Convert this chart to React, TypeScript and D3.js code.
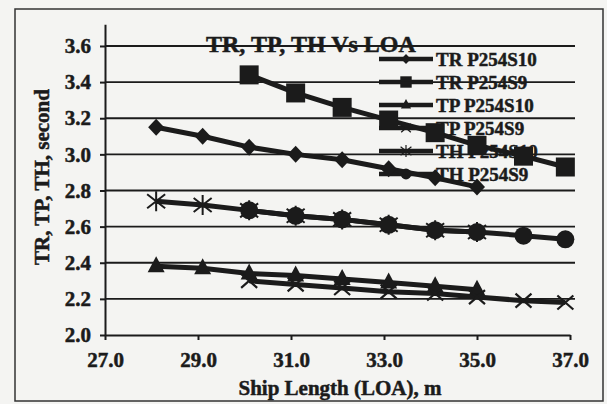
import React, { useEffect, useRef } from 'react';
import * as d3 from 'd3';

// values
const xS10 = [28.1, 29.1, 30.1, 31.1, 32.1, 33.1, 34.1, 35.0];
const xS9 = [30.1, 31.1, 32.1, 33.1, 34.1, 35.0, 36.0, 36.9];

const trS10 = [3.15, 3.10, 3.04, 3.00, 2.97, 2.92, 2.87, 2.82];
const trS9 = [3.44, 3.34, 3.26, 3.19, 3.12, 3.05, 2.99, 2.93];
const tpS10 = [2.38, 2.37, 2.34, 2.33, 2.31, 2.29, 2.27, 2.25];
const tpS9 = [2.30, 2.28, 2.26, 2.24, 2.23, 2.21, 2.19, 2.18];
const thS10 = [2.74, 2.72, 2.69, 2.66, 2.64, 2.61, 2.58, 2.57];
const thS9 = [2.69, 2.66, 2.64, 2.61, 2.58, 2.57, 2.55, 2.53];

const seriesNames = ['TR P254S10', 'TR P254S9', 'TP P254S10', 'TP P254S9', 'TH P254S10', 'TH P254S9'];
const markerTypes = ['diamond', 'square', 'triangle', 'x', 'asterisk', 'circle'];

const xTicks = [27, 29, 31, 33, 35, 37];
const yTicks = [2.0, 2.2, 2.4, 2.6, 2.8, 3.0, 3.2, 3.4, 3.6];
const xMin = 27, xMax = 37;
const yMin = 2.0, yAxisTop = 3.72;

const chartTitle = 'TR, TP, TH Vs LOA';
const xLabel = 'Ship Length (LOA), m';
const yLabel = 'TR, TP, TH, second';

const INK = '#1b1b1b';
const FONT = '"Liberation Serif", "Times New Roman", serif';

function drawMarker(g, type, cx, cy, k) {
  const m = g.append('g').attr('transform', `translate(${cx},${cy}) scale(${k})`);
  if (type === 'diamond') {
    m.append('path').attr('d', 'M0,-8.5L8,0L0,8.5L-8,0Z').attr('fill', INK);
  } else if (type === 'square') {
    m.append('rect').attr('x', -9.5).attr('y', -9.5).attr('width', 19).attr('height', 19).attr('fill', INK);
  } else if (type === 'triangle') {
    m.append('path').attr('d', 'M0,-10L8.5,6L-8.5,6Z').attr('fill', INK);
  } else if (type === 'x') {
    m.append('path').attr('d', 'M-8,-7L8,7M-8,7L8,-7')
      .attr('stroke', INK).attr('stroke-width', 2.2).attr('fill', 'none');
  } else if (type === 'asterisk') {
    m.append('path').attr('d', 'M-9,-7L9,7M-9,7L9,-7M0,-10L0,10')
      .attr('stroke', INK).attr('stroke-width', 2).attr('fill', 'none');
  } else {
    m.append('circle').attr('r', 9).attr('fill', INK);
  }
}

// scanned text looks heavier than plain bold, so give it a thin outline
function inkText(sel, size) {
  return sel.attr('font-family', FONT).attr('font-weight', 'bold').attr('font-size', size)
    .attr('fill', INK).attr('stroke', INK).attr('stroke-width', 0.5);
}

export default function App() {
  const ref = useRef(null);

  useEffect(() => {
    const svg = d3.select(ref.current);
    svg.selectAll('*').remove();

    const x = d3.scaleLinear().domain([xMin, xMax]).range([105, 570]);
    const y = d3.scaleLinear().domain([yMin, yAxisTop]).range([335, 24.3]);

    const series = [
      { xs: xS10, ys: trS10 },
      { xs: xS9, ys: trS9 },
      { xs: xS10, ys: tpS10 },
      { xs: xS9, ys: tpS9 },
      { xs: xS10, ys: thS10 },
      { xs: xS9, ys: thS9 },
    ].map((s, i) => ({ ...s, name: seriesNames[i], marker: markerTypes[i] }));

    svg.append('rect').attr('width', 607).attr('height', 404).attr('fill', '#f4f4f2');
    svg.append('rect').attr('x', 15).attr('y', 9).attr('width', 588).attr('height', 392)
      .attr('fill', 'none').attr('stroke', '#333').attr('stroke-width', 1.5);

    // title and legend sit under the grid and the series
    inkText(svg.append('text').attr('x', 206).attr('y', 52), 24).text(chartTitle);

    const legend = svg.append('g');
    series.forEach((s, i) => {
      const ly = 59 + i * 23;
      legend.append('line').attr('x1', 379).attr('x2', 433).attr('y1', ly).attr('y2', ly)
        .attr('stroke', INK).attr('stroke-width', 4.5);
      drawMarker(legend, s.marker, 406, ly, 0.6);
      inkText(legend.append('text').attr('x', 436).attr('y', ly + 7), 19).text(s.name);
    });

    // gridlines
    svg.append('g').selectAll('line').data(yTicks.filter(t => t > yMin)).join('line')
      .attr('x1', x(xMin)).attr('x2', x(xMax) + 5)
      .attr('y1', d => y(d)).attr('y2', d => y(d))
      .attr('stroke', INK).attr('stroke-width', 1.8);

    const yAxis = svg.append('g').attr('transform', `translate(${x(xMin)},0)`)
      .call(d3.axisLeft(y).tickValues(yTicks).tickSize(5).tickSizeOuter(0).tickPadding(9)
        .tickFormat(d3.format('.1f')));
    const xAxis = svg.append('g').attr('transform', `translate(0,${y(yMin)})`)
      .call(d3.axisBottom(x).tickValues(xTicks).tickSize(5).tickSizeOuter(0).tickPadding(12)
        .tickFormat(d3.format('.1f')));
    [yAxis, xAxis].forEach(a => {
      a.selectAll('path, line').attr('stroke', INK).attr('stroke-width', 2);
      inkText(a.selectAll('text'), 21);
    });

    inkText(svg.append('text').attr('x', 340).attr('y', 395).attr('text-anchor', 'middle'), 21)
      .text(xLabel);
    inkText(svg.append('text').attr('transform', 'translate(49,177) rotate(-90)')
      .attr('text-anchor', 'middle'), 21).text(yLabel);

    const line = d3.line().x(d => x(d[0])).y(d => y(d[1]));
    const plot = svg.append('g');
    series.forEach(s => {
      const pts = s.xs.map((v, j) => [v, s.ys[j]]);
      plot.append('path').attr('d', line(pts)).attr('fill', 'none')
        .attr('stroke', INK).attr('stroke-width', 5).attr('stroke-linejoin', 'round');
      pts.forEach(p => drawMarker(plot, s.marker, x(p[0]), y(p[1]), 1));
    });
  }, []);

  return (
    <svg ref={ref} width={607} height={404}
      style={{ position: 'absolute', left: 0, top: 0, display: 'block' }} />
  );
}
